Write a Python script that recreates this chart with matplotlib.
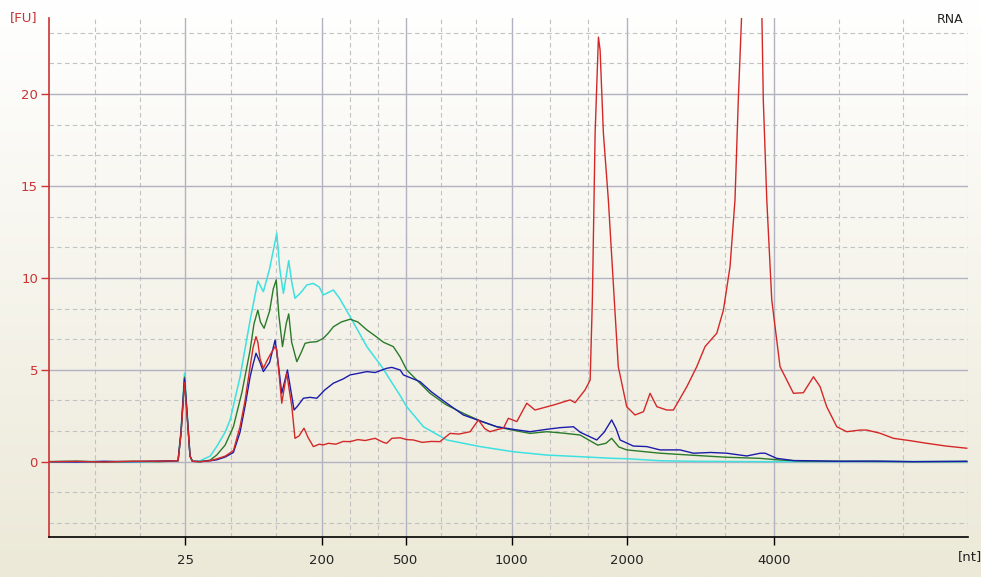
"""
RNA electropherogram (Bioanalyzer style), four overlaid samples
x is migration time in seconds, labelled with the ladder sizes in nt
"""
import numpy as np
import matplotlib
matplotlib.use('Agg')
import matplotlib.pyplot as plt
from matplotlib.colors import to_rgb

# ladder: migration time (s) -> size (nt)
ladder_time = [26.42, 33.84, 38.42, 44.17, 50.43, 58.45]
ladder_nt = ['25', '200', '500', '1000', '2000', '4000']
t_start, t_end = 19.0, 69.0
fu_ticks = [0, 5, 10, 15, 20]

# red sample
red_t = [19.0, 20.5, 22.0, 23.5, 25.0, 26.02, 26.18, 26.37, 26.51, 26.67, 26.80, 27.22, 27.76, 28.12,
         28.58, 29.03, 29.39, 29.66, 29.94, 30.10, 30.26, 30.36, 30.48, 30.66, 30.86, 31.02, 31.30,
         31.39, 31.51, 31.66, 31.93, 32.21, 32.38, 32.60, 32.87, 33.10, 33.38, 33.70, 33.92, 34.20,
         34.60, 35.00, 35.38, 35.80, 36.20, 36.74, 37.19, 37.37, 37.65, 38.10, 38.46, 38.82, 39.30,
         39.80, 40.27, 40.82, 41.30, 41.91, 42.36, 42.70, 42.99, 43.40, 43.72, 43.99, 44.45, 44.99,
         45.44, 46.44, 47.35, 47.62, 48.16, 48.44, 48.56, 48.71, 48.89, 48.98, 49.16, 49.43, 49.70,
         49.97, 50.43, 50.88, 51.34, 51.70, 52.07, 52.61, 52.97, 53.70, 54.24, 54.69, 55.33, 55.69,
         56.05, 56.32, 56.50, 56.69, 57.25, 57.78, 57.86, 58.05, 58.32, 58.77, 59.50, 60.04, 60.59,
         60.95, 61.31, 61.86, 62.40, 63.13, 63.49, 64.20, 64.94, 65.80, 66.75, 67.80, 68.93]
red_fu = [0.0, 0.02, -0.02, 0.02, 0.03, 0.05, 1.5, 4.3, 2.5, 0.3, 0.02, 0.0, 0.05, 0.15,
          0.3, 0.6, 1.9, 3.3, 5.17, 6.2, 6.8, 6.5, 5.6, 5.08, 5.5, 5.8, 6.26,
          6.1, 4.8, 3.18, 4.81, 2.99, 1.27, 1.4, 1.82, 1.3, 0.82, 0.95, 0.91, 1.0,
          0.95, 1.1, 1.09, 1.2, 1.15, 1.27, 1.05, 1.0, 1.27, 1.3, 1.2, 1.18, 1.05,
          1.1, 1.09, 1.54, 1.5, 1.63, 2.27, 1.8, 1.63, 1.75, 1.82, 2.36, 2.18, 3.18,
          2.81, 3.08, 3.36, 3.21, 3.9, 4.44, 8.8, 17.87, 23.1, 22.4, 17.87, 14.24, 9.7,
          5.17, 2.99, 2.54, 2.72, 3.72, 2.99, 2.81, 2.81, 4.08, 5.17, 6.26, 6.99, 8.25,
          10.61, 14.24, 19.68, 24.5, 36.0, 24.5, 19.68, 14.24, 8.8, 5.17, 3.72, 3.75, 4.62,
          4.08, 2.99, 1.9, 1.63, 1.72, 1.72, 1.55, 1.27, 1.15, 1.0, 0.85, 0.73]

# blue sample
blue_t = [19.0, 20.5, 22.0, 23.5, 25.0, 26.02, 26.18, 26.37, 26.51, 26.67, 26.80, 27.22, 27.76, 28.12,
          28.58, 29.03, 29.39, 29.66, 29.94, 30.10, 30.26, 30.48, 30.66, 31.00, 31.30, 31.45, 31.66,
          31.97, 32.10, 32.33, 32.50, 32.84, 33.20, 33.57, 34.00, 34.47, 35.00, 35.38, 35.80, 36.29,
          36.74, 37.37, 37.65, 38.10, 38.28, 38.82, 39.19, 39.80, 40.64, 41.54, 42.50, 43.36, 44.30,
          45.17, 46.00, 46.80, 47.53, 47.90, 48.80, 49.20, 49.61, 49.85, 50.07, 50.79, 51.52, 52.24,
          53.33, 54.06, 55.00, 55.87, 56.96, 57.70, 57.96, 58.59, 59.50, 60.41, 62.00, 64.00, 66.00,
          68.93]
blue_fu = [0.0, -0.02, 0.02, 0.0, 0.03, 0.05, 1.6, 4.5, 2.6, 0.3, 0.02, 0.0, 0.05, 0.1,
           0.25, 0.5, 1.6, 3.0, 4.62, 5.3, 5.9, 5.4, 4.9, 5.4, 6.62, 5.5, 3.72,
           4.99, 4.2, 2.81, 3.0, 3.45, 3.5, 3.45, 3.9, 4.27, 4.5, 4.72, 4.8, 4.9,
           4.85, 5.08, 5.13, 4.99, 4.72, 4.5, 4.35, 3.8, 3.18, 2.54, 2.2, 1.9, 1.75,
           1.63, 1.75, 1.85, 1.9, 1.6, 1.18, 1.6, 2.27, 1.8, 1.18, 0.85, 0.82, 0.64,
           0.64, 0.46, 0.5, 0.46, 0.31, 0.46, 0.46, 0.18, 0.06, 0.05, 0.02, 0.03, 0.0,
           0.02]

# green sample
green_t = [19.0, 20.5, 22.0, 23.5, 25.0, 26.02, 26.18, 26.37, 26.51, 26.67, 26.80, 27.22, 27.76, 28.12,
           28.58, 29.03, 29.50, 29.94, 30.15, 30.36, 30.50, 30.70, 31.00, 31.20, 31.36, 31.50, 31.70,
           31.90, 32.04, 32.20, 32.48, 32.70, 32.93, 33.20, 33.57, 33.92, 34.20, 34.47, 34.90, 35.38,
           35.80, 36.29, 36.80, 37.19, 37.73, 38.10, 38.46, 39.73, 40.60, 41.54, 42.50, 43.36, 44.30,
           45.17, 46.08, 47.00, 47.89, 48.85, 49.30, 49.61, 50.00, 50.43, 52.24, 54.00, 55.87, 57.68,
           58.77, 60.00, 63.00, 66.00, 68.93]
green_fu = [0.0, 0.02, -0.02, 0.02, 0.0, 0.05, 1.6, 4.6, 2.6, 0.3, 0.02, 0.0, 0.08, 0.36,
            0.9, 1.9, 3.8, 6.08, 7.5, 8.25, 7.6, 7.26, 8.2, 9.4, 9.89, 8.0, 6.26,
            7.5, 8.04, 6.5, 5.44, 5.9, 6.44, 6.5, 6.53, 6.71, 7.0, 7.34, 7.6, 7.75,
            7.6, 7.17, 6.8, 6.5, 6.26, 5.7, 4.99, 3.72, 3.1, 2.63, 2.2, 1.9, 1.7,
            1.54, 1.63, 1.55, 1.45, 0.9, 1.0, 1.27, 0.8, 0.64, 0.46, 0.35, 0.24, 0.18,
            0.09, 0.03, 0.02, 0.0, 0.01]

# cyan sample
cyan_t = [19.0, 20.5, 22.0, 23.5, 25.0, 26.02, 26.18, 26.37, 26.51, 26.67, 26.80, 27.22, 27.76, 28.12,
          28.58, 28.85, 29.39, 29.94, 30.36, 30.66, 31.00, 31.39, 31.55, 31.75, 32.04, 32.20, 32.38,
          32.70, 33.02, 33.37, 33.70, 33.92, 34.47, 34.80, 35.38, 36.29, 37.10, 38.10, 38.46, 39.37,
          40.64, 42.45, 44.26, 46.08, 47.89, 49.70, 50.43, 52.24, 54.00, 58.00, 63.00, 68.93]
cyan_fu = [0.0, 0.02, 0.0, -0.02, 0.02, 0.05, 1.7, 4.81, 2.7, 0.3, 0.02, 0.05, 0.3, 0.82,
           1.6, 2.27, 4.6, 7.7, 9.83, 9.25, 10.5, 12.43, 10.5, 9.16, 10.94, 9.8, 8.89,
           9.2, 9.61, 9.7, 9.5, 9.07, 9.34, 8.9, 7.89, 6.26, 5.17, 3.6, 2.99, 1.9,
           1.18, 0.82, 0.54, 0.36, 0.27, 0.18, 0.16, 0.05, 0.02, 0.0, 0.01, 0.0]

fig = plt.figure(figsize=(9.81, 5.77), dpi=100)

# window background: white at the top fading to beige
bg = fig.add_axes([0, 0, 1, 1], zorder=0)
top_c = np.array(to_rgb('#ffffff'))
bot_c = np.array(to_rgb('#ece9d8'))
frac = np.linspace(0, 1, 256)[:, None]
grad = (top_c * (1 - frac) + bot_c * frac)[:, None, :]
bg.imshow(grad, aspect='auto', extent=[0, 1, 0, 1])
bg.axis('off')

ax = fig.add_axes([0.0500, 0.0693, 0.9368, 0.8995], zorder=1)
ax.patch.set_alpha(0)

ax.plot(cyan_t, cyan_fu, color='#3ee0e0', lw=1.1)
ax.plot(green_t, green_fu, color='#2a7a2a', lw=1.0)
ax.plot(blue_t, blue_fu, color='#1c1caa', lw=1.0)
ax.plot(red_t, red_fu, color='#d42828', lw=1.0)

# major ticks at ladder sizes, two dashed lines in every interval
ax.set_xticks(ladder_time)
ax.set_xticklabels(ladder_nt)
edges = [t_start] + ladder_time + [t_end]
minor_x = []
for a, b in zip(edges[:-1], edges[1:]):
    minor_x += [a + (b - a) / 3, a + 2 * (b - a) / 3]
minor_x.append(t_end)
ax.set_xticks(minor_x, minor=True)

ax.set_yticks(fu_ticks)
ax.set_yticks([v for v in np.arange(-10, 30, 5 / 3) if round(v * 3) % 15 != 0], minor=True)

# limits last, set_yticks would widen them
ax.set_xlim(t_start, t_end)
ax.set_ylim(-4.1, 24.14)

ax.set_axisbelow(True)
ax.grid(which='major', color='#b2b2c2', lw=1.0, ls='-')
ax.grid(which='minor', color='#c2c2c2', lw=0.8, ls=(0, (4, 3)))

for s in ['top', 'right']:
    ax.spines[s].set_visible(False)
ax.spines['left'].set_color('#cc3333')
ax.spines['left'].set_linewidth(1.2)
ax.spines['bottom'].set_color('black')
ax.spines['bottom'].set_linewidth(1.2)

ax.tick_params(axis='x', which='major', length=6, width=1, color='black',
               labelsize=9.5, pad=6, labelcolor='#222222')
ax.tick_params(axis='y', which='major', length=6, width=1, color='#cc3333',
               labelsize=9.5, pad=2, labelcolor='#cc3333')
ax.tick_params(which='minor', length=0)

fig.text(0.0245, 0.969, '[FU]', color='#cc3333', fontsize=9.5, ha='center', va='center')
fig.text(0.982, 0.967, 'RNA', color='#222222', fontsize=9, ha='right', va='center')
fig.text(0.9766, 0.0352, '[nt]', color='#222222', fontsize=9.5, ha='left', va='center')

plt.savefig('out.png', dpi=100)
